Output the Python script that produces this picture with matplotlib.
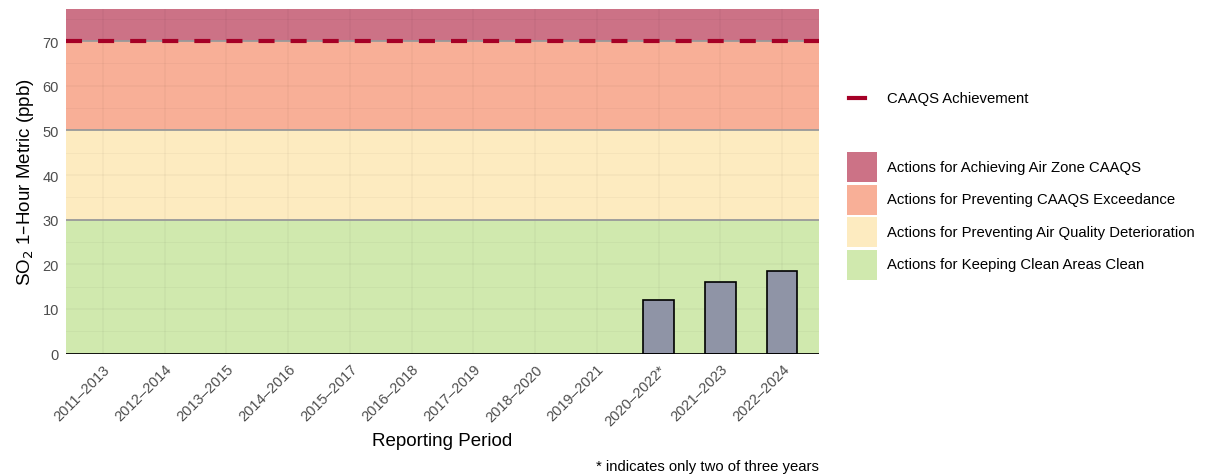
import matplotlib
matplotlib.use("Agg")
import matplotlib.pyplot as plt
from matplotlib.patches import Rectangle
from matplotlib.lines import Line2D

plt.rcParams['font.family'] = ['Liberation Sans', 'DejaVu Sans']

periods = ["2011–2013", "2012–2014", "2013–2015", "2014–2016", "2015–2017",
           "2016–2018", "2017–2019", "2018–2020", "2019–2021", "2020–2022*",
           "2021–2023", "2022–2024"]
so2_values = [None, None, None, None, None, None, None, None, None, 12, 16, 18.5]

band_edges = [0, 30, 50, 70, 77.2]
band_colors = ["#D0E9AE", "#FDEBC0", "#F8AF97", "#CC7286"]
band_labels = ["Actions for Keeping Clean Areas Clean",
               "Actions for Preventing Air Quality Deterioration",
               "Actions for Preventing CAAQS Exceedance",
               "Actions for Achieving Air Zone CAAQS"]
caaqs = 70
yticks = [0, 10, 20, 30, 40, 50, 60, 70]

W, H = 1205, 477
fig = plt.figure(figsize=(W/100, H/100), dpi=100)
ax = fig.add_axes([66/W, 1-354.5/H, (819-66)/W, (354.5-10)/H])

n = len(periods)
xs = list(range(n))
ax.set_xlim(-0.6, n - 1 + 0.6)
ax.set_ylim(0, band_edges[-1])

for lo, hi, c in zip(band_edges[:-1], band_edges[1:], band_colors):
    ax.axhspan(lo, hi, color=c, zorder=0, lw=0)

# grid lines
for x in xs:
    ax.axvline(x, color="#000000", alpha=0.03, lw=1.2, zorder=1)
for y in range(0, 80, 5):
    ax.axhline(y, color="#000000", alpha=0.03, lw=1.2 if y % 10 == 0 else 0.8, zorder=1)

for y in band_edges[1:-1]:
    ax.axhline(y, color="#9A9A9A", lw=1.3, zorder=2)

bx = [x for x, v in zip(xs, so2_values) if v is not None]
bv = [v for v in so2_values if v is not None]
ax.bar(bx, bv, width=0.5, color="#8F94A6", edgecolor="black", lw=1.2, zorder=3)

ax.axhline(caaqs, color="#A50026", lw=3, ls=(0, (3.85, 3.85)), zorder=4)
ax.axhline(0, color="black", lw=2, zorder=5)

for s in ax.spines.values():
    s.set_visible(False)
ax.set_yticks(yticks)
ax.set_xticks(xs)
ax.set_xticklabels(periods, rotation=45, ha="right", rotation_mode="anchor")
ax.tick_params(axis="both", length=0, labelsize=10.5, labelcolor="#4D4D4D")
ax.tick_params(axis="x", pad=6)
ax.tick_params(axis="y", pad=5)
ax.set_xlabel("Reporting Period", fontsize=13.5, labelpad=3)
ax.set_ylabel("SO$_2$ 1–Hour Metric (ppb)", fontsize=13.5, labelpad=5)

# legends (drawn in figure pixel space)
fs = 10.7
fig.add_artist(Line2D([849/W, 865/W], [1-99/H, 1-99/H], color="#A50026", lw=3,
                      transform=fig.transFigure))
fig.text(887/W, 1-99/H, "CAAQS Achievement", ha="left", va="center", fontsize=fs)
centers = [168, 200.5, 233, 265.5]
for cy, c, lab in zip(centers, band_colors[::-1], band_labels[::-1]):
    fig.add_artist(Rectangle((847/W, 1-(cy+15)/H), 30/W, 30/H, facecolor=c,
                             edgecolor="none", transform=fig.transFigure))
    fig.text(887/W, 1-cy/H, lab, ha="left", va="center", fontsize=fs)

fig.text(819/W, 1-467.5/H, "* indicates only two of three years", ha="right",
         va="center", fontsize=fs)

fig.savefig("out.png", dpi=100)
